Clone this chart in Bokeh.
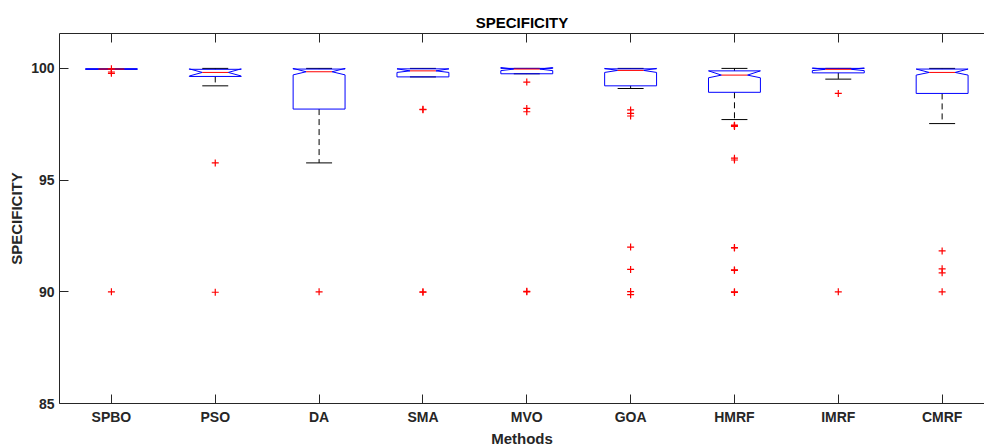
from bokeh.plotting import figure
from bokeh.models import Range1d, FixedTicker, LinearAxis, Title
from bokeh.embed import file_html
from bokeh.resources import INLINE

methods = ["SPBO", "PSO", "DA", "SMA", "MVO", "GOA", "HMRF", "IMRF", "CMRF"]
q1 = [99.97, 99.64, 98.18, 99.62, 99.76, 99.22, 98.93, 99.80, 98.88]
median = [99.97, 99.82, 99.85, 99.89, 99.97, 99.91, 99.70, 99.96, 99.82]
q3 = [99.97, 99.96, 99.97, 99.98, 100.00, 99.98, 99.89, 100.00, 99.97]
whisker_lo = [99.97, 99.22, 95.77, 99.62, 99.76, 99.10, 97.71, 99.52, 97.53]
whisker_hi = [99.97, 100.00, 100.00, 100.00, 100.00, 100.00, 100.00, 100.00, 100.00]
notch_lo = [99.97, 99.66, 99.71, 99.82, 99.90, 99.82, 99.58, 99.90, 99.70]
notch_hi = [99.97, 99.98, 100.00, 99.98, 100.04, 100.00, 99.89, 100.02, 99.97]
outliers = [
    [99.98, 99.84, 99.78, 90.00],
    [95.77, 89.98],
    [90.00],
    [98.17, 98.15, 90.00, 89.98],
    [99.39, 98.21, 98.06, 90.00, 90.02],
    [98.14, 97.99, 97.87, 92.00, 91.00, 90.01, 89.87],
    [97.44, 97.46, 97.40, 95.98, 95.90, 91.96, 91.98, 90.96, 90.98, 89.97, 90.00],
    [98.88, 90.00],
    [91.83, 91.03, 90.85, 90.00],
]
y_ticks = [85, 90, 95, 100]

FONT = "Liberation Sans"
AX = "#262626"
pos = list(range(1, len(methods) + 1))
HALF = 0.25
NOTCH = 0.125
CAP = 0.125

p = figure(width=984, height=446, output_backend="svg", toolbar_location=None,
           title_location=None,
           x_range=Range1d(0.5, 9.408), y_range=Range1d(85, 101.5625),
           min_border_left=59, min_border_right=0, min_border_top=33, min_border_bottom=42)
p.outline_line_color = None
p.grid.visible = False
p.background_fill_color = "white"
p.border_fill_color = "white"

for ax in (p.xaxis[0], p.yaxis[0]):
    ax.axis_line_color = AX
    ax.major_tick_line_color = AX
    ax.major_tick_in = 9
    ax.major_tick_out = 0
    ax.minor_tick_line_color = None
    ax.major_label_text_font = FONT
    ax.major_label_text_font_style = "bold"
    ax.major_label_text_font_size = "14px"
    ax.major_label_text_color = AX

p.xaxis.ticker = FixedTicker(ticks=pos)
p.xaxis.major_label_overrides = {i: m for i, m in zip(pos, methods)}
p.xaxis.major_label_standoff = 5
p.yaxis.ticker = FixedTicker(ticks=y_ticks)
p.yaxis.major_label_standoff = 5
p.yaxis.axis_label = "SPECIFICITY"
p.yaxis.axis_label_text_font = FONT
p.yaxis.axis_label_text_font_style = "bold"
p.yaxis.axis_label_text_font_size = "15px"
p.yaxis.axis_label_text_color = AX
p.yaxis.axis_label_standoff = 3

top = LinearAxis(ticker=FixedTicker(ticks=pos), major_label_overrides={i: "" for i in pos},
                 major_tick_in=9, major_tick_out=0, major_label_standoff=0,
                 major_label_text_font_size="13px",
                 axis_line_color=AX, major_tick_line_color=AX, minor_tick_line_color=None)
p.add_layout(top, "above")

p.add_layout(Title(text="SPECIFICITY", align="center", offset=5, text_font=FONT,
                   text_font_style="bold", text_font_size="15px", text_color="black",
                   standoff=5), "above")
p.add_layout(Title(text="Methods", align="center", offset=5, text_font=FONT,
                   text_font_style="bold", text_font_size="15px", text_color=AX,
                   standoff=0), "below")

# whiskers
p.segment(x0=pos, y0=q3, x1=pos, y1=whisker_hi, line_color="black", line_width=1, line_dash="6 4")
p.segment(x0=pos, y0=q1, x1=pos, y1=whisker_lo, line_color="black", line_width=1, line_dash="6 4")
# caps
p.segment(x0=[x - CAP for x in pos], y0=whisker_hi, x1=[x + CAP for x in pos], y1=whisker_hi,
          line_color="black", line_width=1)
p.segment(x0=[x - CAP for x in pos], y0=whisker_lo, x1=[x + CAP for x in pos], y1=whisker_lo,
          line_color="black", line_width=1)

# notched boxes
xs, ys = [], []
for i, x in enumerate(pos):
    l, r = x - HALF, x + HALF
    xs.append([l, l, l + NOTCH, l, l, r, r, r - NOTCH, r, r, l])
    ys.append([q1[i], notch_lo[i], median[i], notch_hi[i], q3[i], q3[i],
               notch_hi[i], median[i], notch_lo[i], q1[i], q1[i]])
p.multi_line(xs=xs, ys=ys, line_color="blue", line_width=1)

# medians
p.segment(x0=[x - NOTCH for x in pos], y0=median, x1=[x + NOTCH for x in pos], y1=median,
          line_color="red", line_width=1)

# outliers
ox, oy = [], []
for x, vals in zip(pos, outliers):
    for v in vals:
        ox.append(x)
        oy.append(v)
p.scatter(x=ox, y=oy, marker="cross", size=7, line_color="red", line_width=1.2)

open("out.html", "w").write(file_html(p, INLINE))
